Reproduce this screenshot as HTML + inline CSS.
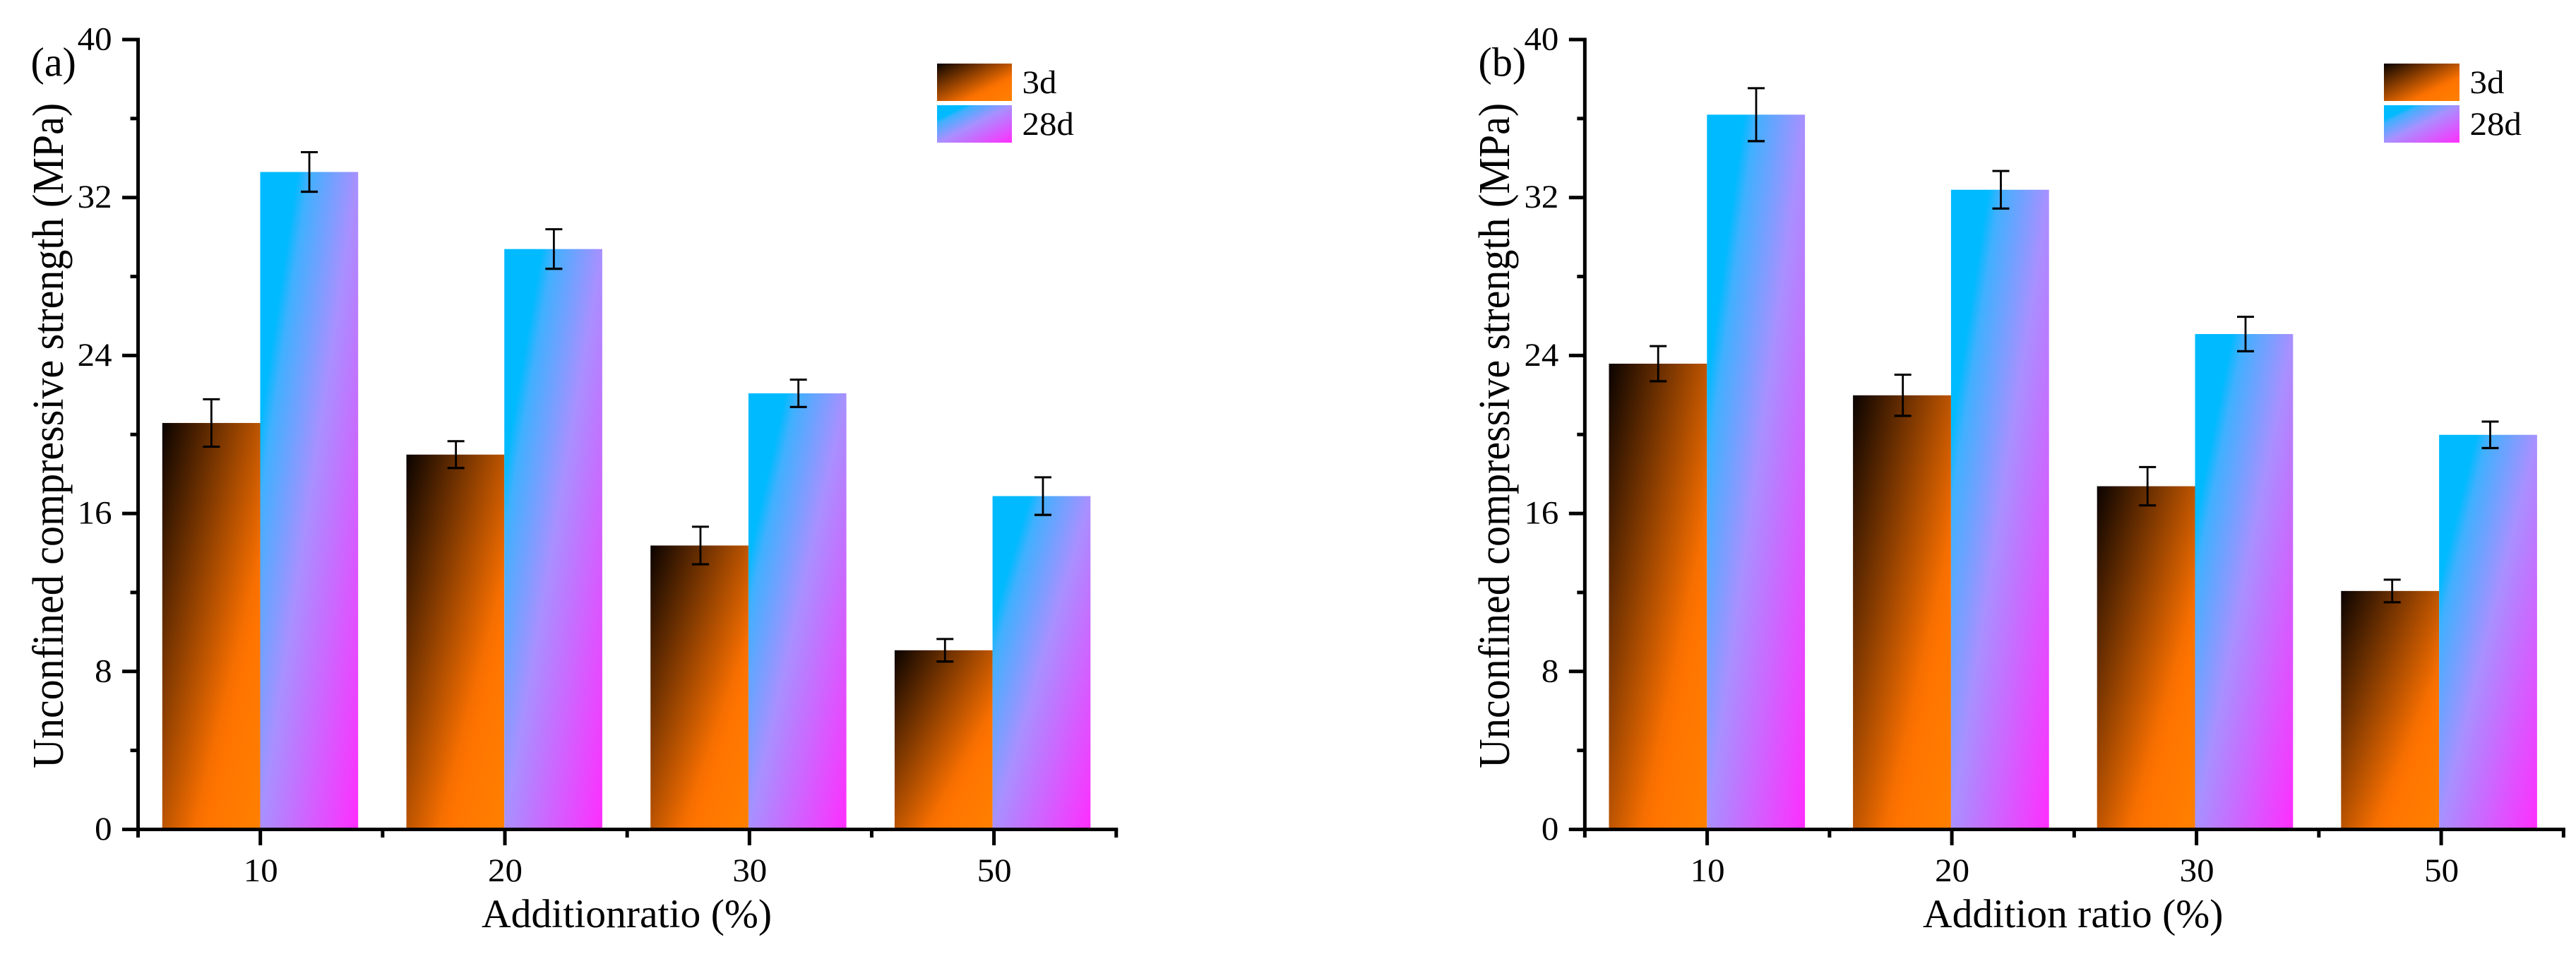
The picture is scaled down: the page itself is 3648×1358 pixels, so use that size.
<!DOCTYPE html>
<html lang="en">
<head>
<meta charset="utf-8">
<title>Unconfined compressive strength by addition ratio</title>
<style>
html,body{margin:0;padding:0;background:#fff;width:3648px;height:1358px;overflow:hidden}
svg{display:block}
text{font-family:"Liberation Serif",serif;fill:#000}
</style>
</head>
<body>
<svg id="figure" xmlns="http://www.w3.org/2000/svg" width="3648" height="1358" viewBox="0 0 3648 1358">
  <defs>
    <linearGradient id="grad-3d" x1="0" y1="0" x2="1" y2="1">
      <stop offset="0" stop-color="#0a0300"/>
      <stop offset="0.66" stop-color="#f56e00"/>
      <stop offset="0.72" stop-color="#ff7400"/>
      <stop offset="1" stop-color="#ff8000"/>
    </linearGradient>
    <linearGradient id="grad-28d" x1="0" y1="0" x2="1" y2="1">
      <stop offset="0" stop-color="#00baff"/>
      <stop offset="0.19" stop-color="#00baff"/>
      <stop offset="0.25" stop-color="#40b0ff"/>
      <stop offset="0.5" stop-color="#a890ff"/>
      <stop offset="1" stop-color="#ff2dff"/>
    </linearGradient>
  </defs>
</svg>
<script>
const categories = ["10", "20", "30", "50"];
const yTickValues = [0, 8, 16, 24, 32, 40];
const yMinorValues = [4, 12, 20, 28, 36];
const seriesNames = ["3d", "28d"];
const panelA3d = [20.6, 19.0, 14.4, 9.1];
const panelA28d = [33.3, 29.4, 22.1, 16.9];
const panelA3dErr = [1.2, 0.68, 0.95, 0.57];
const panelA28dErr = [1.0, 1.0, 0.69, 0.95];
const panelB3d = [23.6, 22.0, 17.4, 12.1];
const panelB28d = [36.2, 32.4, 25.1, 20.0];
const panelB3dErr = [0.89, 1.04, 0.97, 0.57];
const panelB28dErr = [1.34, 0.95, 0.87, 0.67];

const SVG_NS = "http://www.w3.org/2000/svg";
const root = document.getElementById("figure");
const yZero = 1175.5;
const yTop = 56;
const yMax = 40;
const axisWidth = 5;
const axisY = 1174.5;
function yScale(v) { return yZero - (v / yMax) * (yZero - yTop); }
function tickY(v) { return axisY - (v / yMax) * (axisY - yTop); }

function make(parent, tag, attrs, content) {
  const node = document.createElementNS(SVG_NS, tag);
  for (const key in attrs) node.setAttribute(key, attrs[key]);
  if (content !== undefined) node.textContent = content;
  parent.appendChild(node);
  return node;
}

function widen(node, factor) {
  node.setAttribute("textLength", node.getComputedTextLength() * factor);
  node.setAttribute("lengthAdjust", "spacingAndGlyphs");
}

function drawPanel(p) {
  const group = make(root, "g", {});
  
  

  const xScale = function (i) { return p.firstCat + i * p.catStep; };
  const barCentre = function (i) { return p.firstBar + i * p.barStep; };

  categories.forEach(function (cat, i) {
    const c = barCentre(i);
    const y3 = yScale(p.v3[i]);
    const bar3 = make(group, "rect", { x: c - p.barW, y: y3, width: p.barW, height: axisY - y3, fill: "url(#grad-3d)" });
    
    
    const y28 = yScale(p.v28[i]);
    const bar28 = make(group, "rect", { x: c, y: y28, width: p.barW, height: axisY - y28, fill: "url(#grad-28d)" });
    
    
  });

  function drawError(cx, value, err, name) {
    const eg = make(group, "g", { stroke: "#000", "stroke-width": 2.8, fill: "none" });
    
    
    const hi = yScale(value + err);
    const lo = yScale(value - err);
    make(eg, "line", { x1: cx, x2: cx, y1: hi, y2: lo });
    make(eg, "line", { x1: cx - 12, x2: cx + 12, y1: hi, y2: hi, "stroke-width": 3 });
    make(eg, "line", { x1: cx - 12, x2: cx + 12, y1: lo, y2: lo, "stroke-width": 3.2 });
  }
  categories.forEach(function (cat, i) {
    const c = xScale(i);
    drawError(c - p.barW / 2, p.v3[i], p.e3[i], 'error-bar-3d-' + cat);
    drawError(c + p.barW / 2, p.v28[i], p.e28[i], 'error-bar-28d-' + cat);
  });

  const xStart = p.firstCat - p.catStep / 2;
  const xEnd = xScale(categories.length - 1) + p.catStep / 2;

  const yAxis = make(group, "line", { x1: xStart, x2: xStart, y1: yTop - 2.5, y2: axisY + 2.5, stroke: "#000", "stroke-width": axisWidth });
  
  
  const xAxis = make(group, "line", { x1: xStart - 22.5, x2: xEnd + 2.5, y1: axisY, y2: axisY, stroke: "#000", "stroke-width": axisWidth });
  
  

  yTickValues.forEach(function (v) {
    const y = tickY(v);
    const tick = make(group, "line", { x1: xStart - 22.5, x2: xStart, y1: y, y2: y, stroke: "#000", "stroke-width": axisWidth });
    
    
    const label = make(group, "text", { x: xStart - 37, y: y + 14.5, "font-size": 47, "text-anchor": "end" }, String(v));
    
    
    widen(label, 1.04);
  });
  yMinorValues.forEach(function (v) {
    const y = tickY(v);
    const tick = make(group, "line", { x1: xStart - 11, x2: xStart, y1: y, y2: y, stroke: "#000", "stroke-width": axisWidth });
    
    
  });

  categories.forEach(function (cat, i) {
    const c = xScale(i);
    const tick = make(group, "line", { x1: c, x2: c, y1: axisY, y2: 1197, stroke: "#000", "stroke-width": axisWidth });
    
    
    const label = make(group, "text", { x: c + 0.5, y: 1248, "font-size": 47, "text-anchor": "middle" }, cat);
    
    
    widen(label, 1.04);
  });
  for (let i = 0; i <= categories.length; i++) {
    const mx = xStart + i * p.catStep;
    const tick = make(group, "line", { x1: mx, x2: mx, y1: axisY, y2: 1186, stroke: "#000", "stroke-width": axisWidth });
    
    
  }

  const xTitle = make(group, "text", { x: p.xTitleX, y: 1313, "font-size": 57.6 }, p.xTitle);
  
  

  const yTitle = make(group, "text", { transform: "translate(" + p.yTitleX + ",1088) rotate(-90) scale(1,1.08)", "font-size": 58 }, "Unconfined compressive strength (MPa)");
  
  

  const tag = make(group, "text", { x: p.tagX, y: 107.5, "font-size": 58 }, p.tag);
  
  

  const legend = make(group, "g", {});
  
  
  seriesNames.forEach(function (s, i) {
    const swatch = make(legend, "rect", { x: p.legendX, y: 90 + i * 59, width: p.legendW, height: 53, fill: "url(#grad-" + s + ")" });
    
    
    const txt = make(legend, "text", { x: p.legendX + p.legendW + 14.5, y: 132 + i * 59, "font-size": 47 }, s);
    
    
    widen(txt, 1.04);
  });
}

drawPanel({
  id: "a", tag: "(a)", tagX: 43.5, firstCat: 368.7, catStep: 346.3,
  firstBar: 368.5, barStep: 345.7, barW: 138.7,
  v3: panelA3d, v28: panelA28d, e3: panelA3dErr, e28: panelA28dErr,
  xTitle: "Additionratio (%)", xTitleX: 682, yTitleX: 89,
  legendX: 1327, legendW: 106
});
drawPanel({
  id: "b", tag: "(b)", tagX: 2093.5, firstCat: 2417.6, catStep: 346.5,
  firstBar: 2417.3, barStep: 345.6, barW: 138.8,
  v3: panelB3d, v28: panelB28d, e3: panelB3dErr, e28: panelB28dErr,
  xTitle: "Addition ratio (%)", xTitleX: 2723, yTitleX: 2137,
  legendX: 3376, legendW: 107
});
</script>
</body>
</html>
